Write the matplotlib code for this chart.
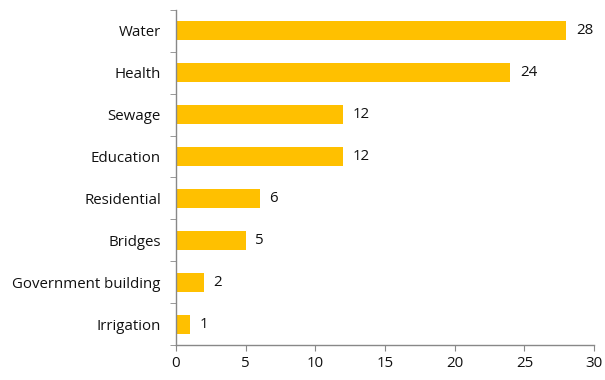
import matplotlib
matplotlib.use('Agg')
import matplotlib.pyplot as plt
import numpy as np

categories = ['Water', 'Health', 'Sewage', 'Education', 'Residential',
              'Bridges', 'Government building', 'Irrigation']
values = [28, 24, 12, 12, 6, 5, 2, 1]
xticks = [0, 5, 10, 15, 20, 25, 30]

plt.rcParams['font.family'] = ['Open Sans', 'DejaVu Sans']
plt.rcParams['font.size'] = 10.8

fig = plt.figure(figsize=(6.05, 3.8), dpi=100)
ax = fig.add_axes([0.291, 0.092, 0.691, 0.882])

y = np.arange(len(categories))[::-1]
ax.barh(y, values, height=0.45, color='#FFC000')
for yi, v in zip(y, values):
    ax.text(v + 0.7, yi, str(v), va='center', ha='left', color='#111111')

ax.set_xlim(0, 30)
ax.set_ylim(-0.5, len(categories) - 0.5)
ax.set_xticks(xticks)
ax.set_yticks(y)
ax.set_yticklabels(categories)
ax.set_yticks(np.arange(len(categories) + 1) - 0.5, minor=True)

for s in ['top', 'right']:
    ax.spines[s].set_visible(False)
for s in ['left', 'bottom']:
    ax.spines[s].set_color('#888888')
    ax.spines[s].set_linewidth(1.0)

ax.tick_params(axis='y', which='major', length=0, pad=11, colors='#111111')
ax.tick_params(axis='y', which='minor', length=4, color='#888888')
ax.tick_params(axis='x', which='major', length=4, color='#888888', colors='#111111', pad=4)

fig.savefig('out.png', dpi=100)
